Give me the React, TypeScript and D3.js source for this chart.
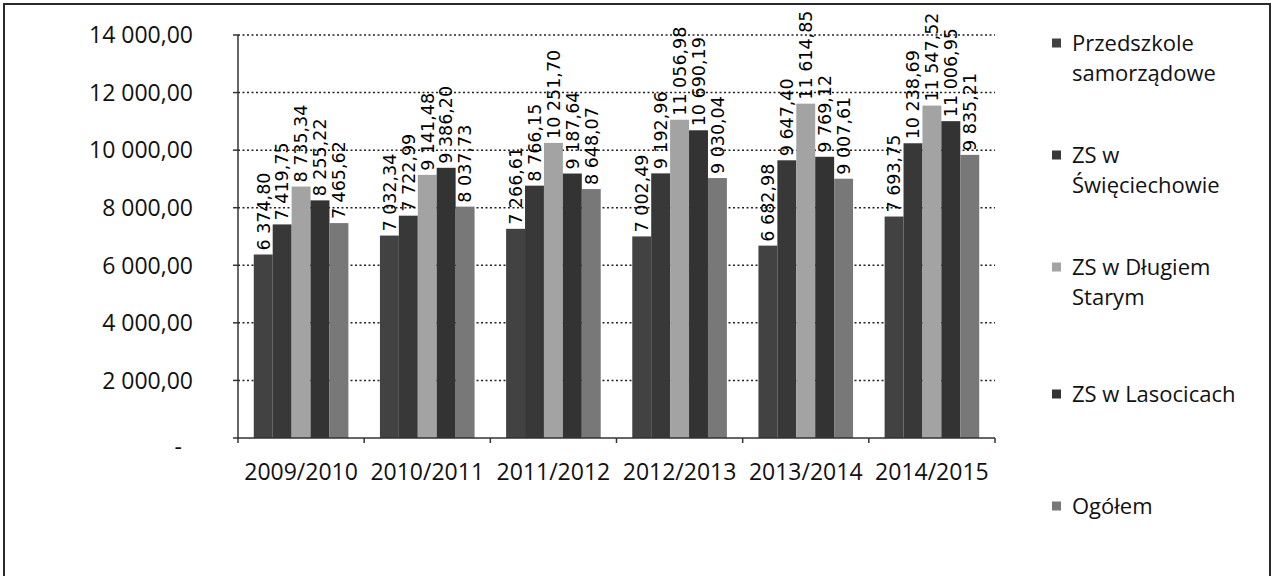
import React, { useEffect, useRef } from 'react';
import * as d3 from 'd3';

const categories = ['2009/2010', '2010/2011', '2011/2012', '2012/2013', '2013/2014', '2014/2015'];

const seriesNames = ['Przedszkole samorządowe', 'ZS w Święciechowie', 'ZS w Długiem Starym', 'ZS w Lasocicach', 'Ogółem'];
const legendLines = [['Przedszkole', 'samorządowe'], ['ZS w', 'Święciechowie'], ['ZS w Długiem', 'Starym'], ['ZS w Lasocicach'], ['Ogółem']];

const przedszkole = [6374.8, 7032.34, 7266.61, 7002.49, 6682.98, 7693.75];
const swieciechowo = [7419.75, 7722.99, 8766.15, 9192.96, 9647.4, 10238.69];
const dlugieStare = [8735.34, 9141.48, 10251.7, 11056.98, 11614.85, 11547.52];
const lasocice = [8255.22, 9386.2, 9187.64, 10690.19, 9769.12, 11006.95];
const ogolem = [7465.62, 8037.73, 8648.07, 9030.04, 9007.61, 9835.21];

const seriesValues = [przedszkole, swieciechowo, dlugieStare, lasocice, ogolem];
const yTicks = [0, 2000, 4000, 6000, 8000, 10000, 12000, 14000];

const colors = ['#424242', '#383838', '#a3a3a3', '#333333', '#787878'];

const plFormat = d3.formatLocale({ decimal: ',', thousands: ' ', grouping: [3], currency: ['', ''] }).format(',.2f');

export default function App() {
  const svgRef = useRef<SVGSVGElement | null>(null);

  useEffect(() => {
    if (!svgRef.current) return;
    const svg = d3.select(svgRef.current);
    svg.selectAll('*').remove();

    const width = 1274;
    const height = 576;
    const plot = { left: 238, right: 995, top: 35, bottom: 438 };
    const axisFont = '"Open Sans", sans-serif';
    const textColor = '#111';

    svg.attr('width', width).attr('height', height);

    // outer frame
    svg.append('rect')
      .attr('x', 4).attr('y', 4)
      .attr('width', 1266).attr('height', 620)
      .attr('fill', '#fff')
      .attr('stroke', '#2a2a2a')
      .attr('stroke-width', 2);

    const x = d3.scaleBand<string>()
      .domain(categories)
      .range([plot.left, plot.right])
      .paddingInner(0.25)
      .paddingOuter(0.125);

    const xInner = d3.scaleBand<number>()
      .domain(d3.range(seriesNames.length))
      .range([0, x.bandwidth()]);

    const y = d3.scaleLinear().domain([0, 14000]).range([plot.bottom, plot.top]);

    // dotted gridlines
    svg.append('g')
      .selectAll('line')
      .data(yTicks.filter(t => t > 0))
      .join('line')
      .attr('x1', plot.left).attr('x2', plot.right)
      .attr('y1', d => y(d)).attr('y2', d => y(d))
      .attr('stroke', '#222')
      .attr('stroke-width', 1.5)
      .attr('stroke-dasharray', '2,2.5');

    // bars
    seriesValues.forEach((vals, s) => {
      svg.append('g')
        .selectAll('rect')
        .data(vals)
        .join('rect')
        .attr('x', (_, i) => (x(categories[i]) || 0) + (xInner(s) || 0))
        .attr('y', d => y(d))
        .attr('width', xInner.bandwidth())
        .attr('height', d => plot.bottom - y(d))
        .attr('fill', colors[s]);
    });

    // y axis
    svg.append('line')
      .attr('x1', plot.left).attr('x2', plot.left)
      .attr('y1', plot.top).attr('y2', plot.bottom)
      .attr('stroke', '#333').attr('stroke-width', 1.5);
    svg.append('g')
      .selectAll('line')
      .data(yTicks)
      .join('line')
      .attr('x1', plot.left - 5).attr('x2', plot.left)
      .attr('y1', d => y(d)).attr('y2', d => y(d))
      .attr('stroke', '#333').attr('stroke-width', 1.5);

    svg.append('g')
      .selectAll('text')
      .data(yTicks)
      .join('text')
      .attr('x', d => (d === 0 ? 182 : 193))
      .attr('y', d => y(d))
      .attr('dy', d => (d === 0 ? '0.75em' : '0.36em'))
      .attr('text-anchor', 'end')
      .attr('font-family', axisFont)
      .attr('font-size', 23)
      .attr('fill', textColor)
      .text(d => (d === 0 ? '-' : plFormat(d)));

    // x axis
    svg.append('line')
      .attr('x1', plot.left).attr('x2', plot.right)
      .attr('y1', plot.bottom).attr('y2', plot.bottom)
      .attr('stroke', '#333').attr('stroke-width', 1.5);
    const boundaries = d3.range(categories.length + 1).map(i => plot.left + i * x.step());
    svg.append('g')
      .selectAll('line')
      .data(boundaries)
      .join('line')
      .attr('x1', d => d).attr('x2', d => d)
      .attr('y1', plot.bottom).attr('y2', plot.bottom + 5)
      .attr('stroke', '#333').attr('stroke-width', 1.5);

    svg.append('g')
      .selectAll('text')
      .data(categories)
      .join('text')
      .attr('x', d => (x(d) || 0) + x.bandwidth() / 2)
      .attr('y', 472)
      .attr('dy', '0.36em')
      .attr('text-anchor', 'middle')
      .attr('font-family', axisFont)
      .attr('font-size', 23)
      .attr('fill', textColor)
      .text(d => d);

    // data labels (rotated)
    seriesValues.forEach((vals, s) => {
      svg.append('g')
        .selectAll('text')
        .data(vals)
        .join('text')
        .attr('transform', (d, i) => {
          const cx = (x(categories[i]) || 0) + (xInner(s) || 0) + xInner.bandwidth() / 2;
          return `translate(${cx},${y(d) - 4}) rotate(-90)`;
        })
        .attr('dy', '0.36em')
        .attr('text-anchor', 'start')
        .attr('font-family', '"DejaVu Sans", sans-serif')
        .attr('font-size', 17.5)
        .attr('fill', '#000')
        .text(d => plFormat(d));
    });

    // legend
    const legend = svg.append('g');
    const lineGap = 30;
    legendLines.forEach((lines, i) => {
      const center = 58 + i * 112;
      const firstLine = center - ((lines.length - 1) * lineGap) / 2;
      legend.append('rect')
        .attr('x', 1052).attr('y', firstLine - 4.5)
        .attr('width', 9).attr('height', 9)
        .attr('fill', colors[i]);
      lines.forEach((line, j) => {
        legend.append('text')
          .attr('x', 1072)
          .attr('y', firstLine + j * lineGap)
          .attr('dy', '0.36em')
          .attr('font-family', axisFont)
          .attr('font-size', 22)
          .attr('fill', textColor)
          .text(line);
      });
    });
  }, []);

  return (
    <div style={{ position: 'absolute', left: 0, top: 0, width: 1274, height: 576, overflow: 'hidden', background: '#fff' }}>
      <svg ref={svgRef} style={{ display: 'block' }}></svg>
    </div>
  );
}
